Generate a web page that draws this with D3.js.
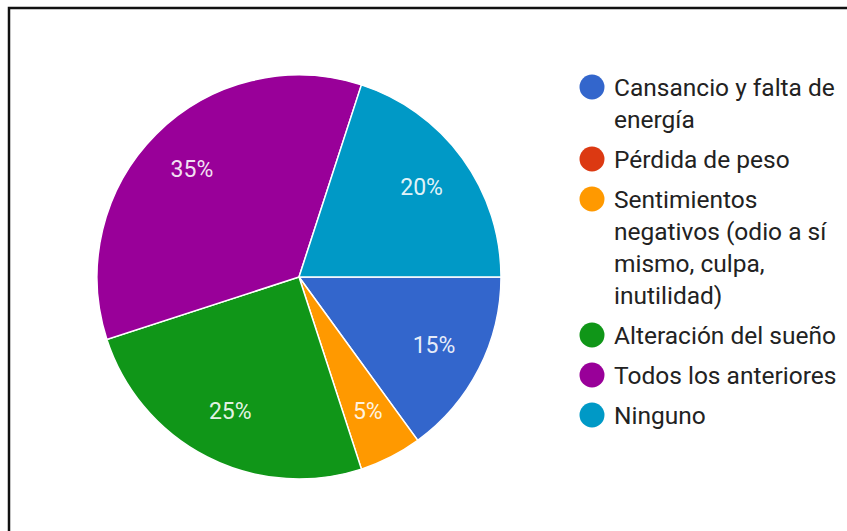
<!DOCTYPE html>
<html>
<head>
<meta charset="utf-8">
<script src="https://cdn.jsdelivr.net/npm/d3@7"></script>
<style>
  html, body { margin: 0; padding: 0; background: #fff; }
  svg { display: block; }
</style>
</head>
<body>
<svg id="chart" width="847" height="531"></svg>
<script>
// Síntomas reportados (porcentaje de respuestas)
const categories = [
  "Cansancio y falta de energía",
  "Pérdida de peso",
  "Sentimientos negativos (odio a sí mismo, culpa, inutilidad)",
  "Alteración del sueño",
  "Todos los anteriores",
  "Ninguno"
];
const values = [15, 0, 5, 25, 35, 20];
const colors = ["#3366cc", "#dc3912", "#ff9900", "#109618", "#990099", "#0099c6"];
// Legend text split into the lines it wraps to
const legendLines = [
  ["Cansancio y falta de", "energía"],
  ["Pérdida de peso"],
  ["Sentimientos", "negativos (odio a sí", "mismo, culpa,", "inutilidad)"],
  ["Alteración del sueño"],
  ["Todos los anteriores"],
  ["Ninguno"]
];

const svg = d3.select("#chart");
const font = "Roboto, 'Noto Sans', Arial, sans-serif";

// Frame
svg.append("path")
  .attr("d", "M9,531 V8 H847")
  .attr("fill", "none")
  .attr("stroke", "#111")
  .attr("stroke-width", 2.5);

const cx = 299, cy = 277, R = 202;
const data = categories.map((c, i) => ({ name: c, value: values[i], color: colors[i] }));

const pie = d3.pie()
  .value(d => d.value)
  .sort(null)
  .startAngle(Math.PI / 2)
  .endAngle(Math.PI / 2 + 2 * Math.PI);

const arc = d3.arc().innerRadius(0).outerRadius(R);
const labelArc = d3.arc().innerRadius(R * 0.75).outerRadius(R * 0.75);
const arcs = pie(data).filter(d => d.data.value > 0);

const g = svg.append("g").attr("transform", `translate(${cx},${cy})`);
g.selectAll("path.slice")
  .data(arcs)
  .join("path")
  .attr("class", "slice")
  .attr("d", arc)
  .attr("fill", d => d.data.color)
  .attr("stroke", "#fff")
  .attr("stroke-width", 1.5);

g.selectAll("text.pct")
  .data(arcs)
  .join("text")
  .attr("class", "pct")
  .attr("transform", d => `translate(${labelArc.centroid(d)})`)
  .attr("text-anchor", "middle")
  .attr("dominant-baseline", "central")
  .attr("font-family", font)
  .attr("font-size", 23)
  .attr("fill", "#fff")
  .attr("fill-opacity", 0.9)
  .text(d => d.data.value + "%");

// Legend
const lx = 592, tx = 614, lineH = 32, itemGap = 40;
let y = 87;
const legend = svg.append("g");
legendLines.forEach((lines, i) => {
  legend.append("circle")
    .attr("cx", lx).attr("cy", y).attr("r", 12.5)
    .attr("fill", colors[i]);
  lines.forEach((t, j) => {
    legend.append("text")
      .attr("x", tx).attr("y", y + j * lineH)
      .attr("dominant-baseline", "central")
      .attr("font-family", font)
      .attr("font-size", 24.5)
      .attr("fill", "#222")
      .text(t);
  });
  y += (lines.length - 1) * lineH + itemGap;
});
</script>
</body>
</html>
